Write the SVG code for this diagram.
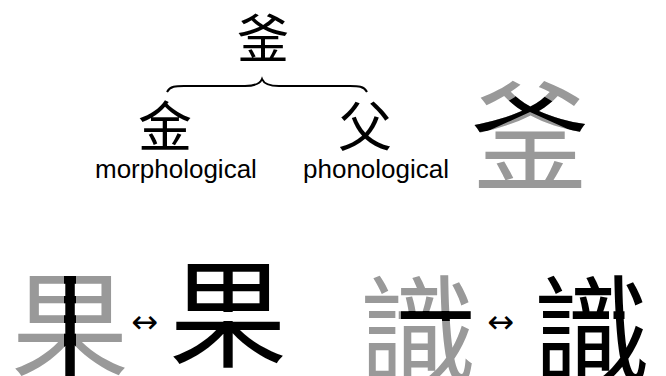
<svg xmlns="http://www.w3.org/2000/svg" width="666" height="376" viewBox="0 0 666 376">
<style>
.cjk{font-family:"Noto Sans CJK TC","Noto Sans CJK SC",sans-serif;text-anchor:middle}
.lbl{font-family:"Liberation Sans",Arial,sans-serif;font-size:26px;fill:#000}
.arr{font-family:"DejaVu Sans",sans-serif;font-size:32px;text-anchor:middle;fill:#000}
.g{fill:#999}
.k{fill:#000}
</style>
<defs>
<clipPath id="cGuo"><rect x="64" y="250" width="12" height="130"/></clipPath>
<clipPath id="cFu"><polygon points="522,86 538,86 545,97 592,125 588,134 572,131 530,112 488,131 472,133 468,125 515,97"/></clipPath>
<clipPath id="cShi"><rect x="401" y="311" width="72" height="10"/></clipPath>
<mask id="mGuo" maskUnits="userSpaceOnUse" x="0" y="0" width="666" height="376">
<rect width="666" height="376" fill="#fff"/>
<rect x="220" y="312" width="16" height="9" fill="#000"/>
</mask>
<mask id="mShi" maskUnits="userSpaceOnUse" x="0" y="0" width="666" height="376">
<rect width="666" height="376" fill="#fff"/>
<rect x="609" y="310.5" width="4.5" height="11" fill="#000"/>
<rect x="624.5" y="310.5" width="41.5" height="11" fill="#000"/>
</mask>
</defs>
<rect width="666" height="376" fill="#fff"/>
<g id="top">
<text class="cjk k" x="263" y="58" font-size="52">釜</text>
</g>
<g id="connectors">
<path d="M167,92 C170,86 176,86 184,86 L245,86 C255,86 260,84 262,79 C264,84 269,86 279,86 L350,86 C358,86 364,86 367,92" fill="none" stroke="#000" stroke-width="2"/>
</g>
<g id="morph">
<text class="cjk k" x="165" y="147" font-size="54">金</text>
<text class="lbl" x="95" y="178">morphological</text>
</g>
<g id="phon">
<text class="cjk k" x="365" y="147" font-size="54">父</text>
<text class="lbl" x="303" y="178">phonological</text>
</g>
<g id="big">
<text class="cjk g" x="530" y="181" font-size="118">釜</text>
<text class="cjk k" x="530" y="181" font-size="118" clip-path="url(#cFu)">釜</text>
</g>
<g id="guo1">
<text class="cjk g" x="70" y="370" font-size="118">果</text>
<text class="cjk k" x="70" y="370" font-size="118" clip-path="url(#cGuo)">果</text>
</g>
<text class="arr" x="145" y="333">↔</text>
<g id="guo2"><text class="cjk k" x="228" y="358" font-size="118" mask="url(#mGuo)">果</text></g>
<g id="shi1">
<text class="cjk g" x="418" y="375" font-size="118">識</text>
<text class="cjk k" x="418" y="375" font-size="118" clip-path="url(#cShi)">識</text>
</g>
<text class="arr" x="501" y="333">↔</text>
<g id="shi2"><text class="cjk k" x="592" y="375" font-size="118" mask="url(#mShi)">識</text></g>
</svg>
